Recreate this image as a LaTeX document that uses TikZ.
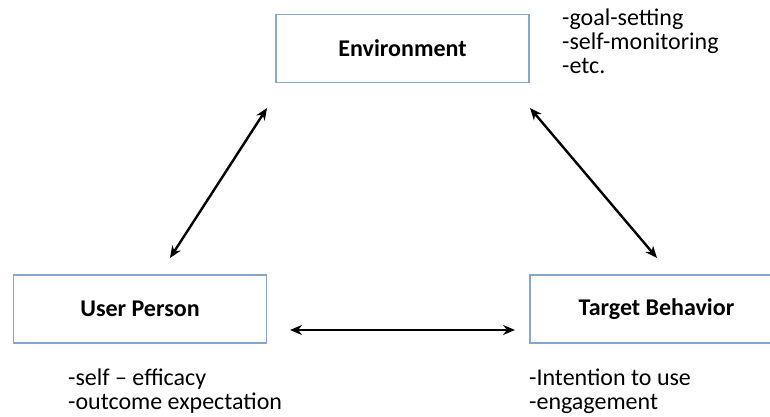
\documentclass[tikz,border=0pt]{standalone}
\usepackage{fontspec}
\setmainfont{Carlito}
\usetikzlibrary{arrows.meta}
\definecolor{boxblue}{RGB}{135,165,205}
\tikzset{
  box/.style={draw=boxblue, line width=1.4pt, minimum width=253pt, minimum height=68pt, inner sep=0pt, font=\fontsize{24}{28}\selectfont\bfseries},
  dbl/.style={line width=2.4pt, {Stealth[length=12pt,width=10pt]}-{Stealth[length=12pt,width=10pt]}},
  list/.style={align=left, inner sep=0pt, anchor=north west, font=\fontsize{24}{24}\selectfont}
}
\begin{document}
\begin{tikzpicture}[x=1pt,y=-1pt]
\useasboundingbox (0,0) rectangle (770,417);
\clip (0,0) rectangle (770,417);
\node[box] (env) at (402.5,48.5) {Environment};
\node[box] (user) at (140,309) {User Person};
\node[box] (target) at (656.5,309) {Target Behavior};
\node[list] (envlist) at (562,8.5) {-goal-setting\\-self-monitoring\\-etc.};
\node[list] (userlist) at (68,369) {-self -- efficacy\\-outcome expectation};
\node[list] (targetlist) at (529,369) {-Intention to use\\-engagement};
\coordinate (a1) at (170,258);
\coordinate (a2) at (267,108);
\coordinate (b1) at (530,108);
\coordinate (b2) at (657,258);
\coordinate (c1) at (290,330);
\coordinate (c2) at (515,330);
\draw[dbl] (a1) -- (a2);
\draw[dbl] (b1) -- (b2);
\draw[dbl] (c1) -- (c2);
\end{tikzpicture}
\end{document}
